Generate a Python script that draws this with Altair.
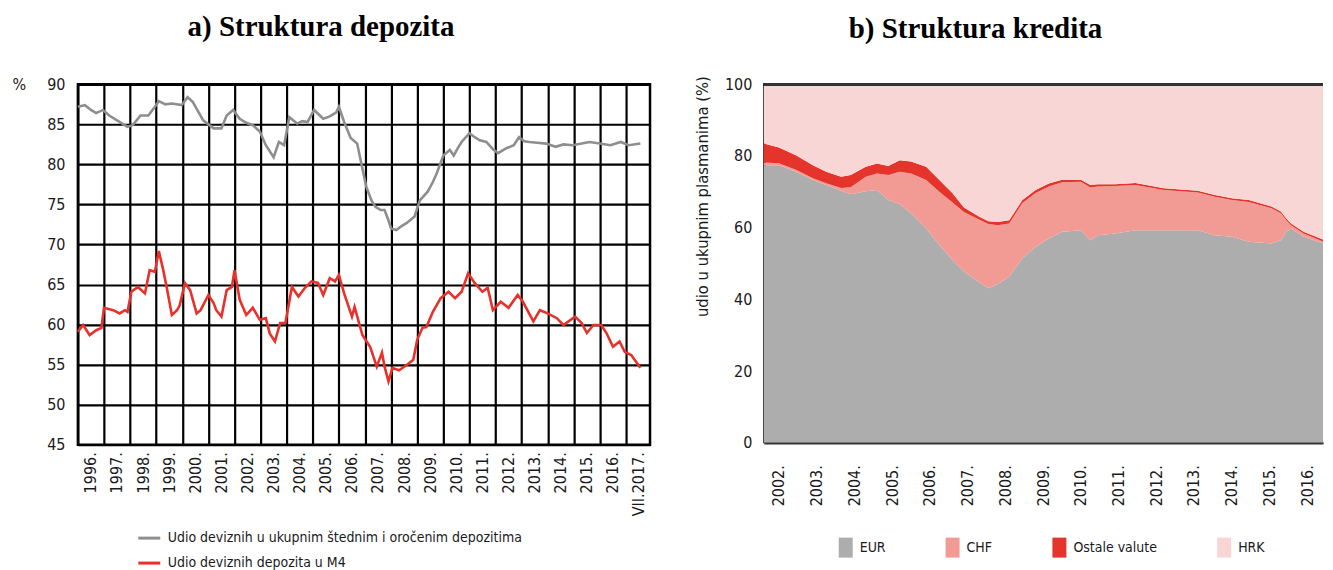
import altair as alt
import pandas as pd

FONT_N = "Liberation Sans Narrow, Arial Narrow, DejaVu Sans Condensed, Liberation Sans, sans-serif"
FONT_T = "Liberation Serif, Times New Roman, serif"
TXT = "#1a1a1a"

# ---------------- a) Struktura depozita ----------------
SER_A = ["Udio deviznih u ukupnim štednim i oročenim depozitima", "Udio deviznih depozita u M4"]
GRAY_T = [1996.0, 1996.27, 1996.5, 1996.7, 1996.96, 1997.2, 1997.5, 1997.9, 1998.1, 1998.4,
          1998.7, 1998.95, 1999.1, 1999.35, 1999.6, 1999.98, 2000.2, 2000.4, 2000.8, 2001.2,
          2001.5, 2001.7, 2001.95, 2002.2, 2002.45, 2002.7, 2002.97, 2003.2, 2003.5, 2003.7,
          2003.9, 2004.1, 2004.4, 2004.6, 2004.8, 2005.05, 2005.4, 2005.65, 2005.9, 2006.0,
          2006.2, 2006.45, 2006.7, 2006.9, 2007.05, 2007.25, 2007.4, 2007.6, 2007.75, 2007.9,
          2008.0, 2008.2, 2008.4, 2008.6, 2008.9, 2009.1, 2009.4, 2009.6, 2009.75, 2010.0,
          2010.25, 2010.4, 2010.55, 2010.7, 2011.0, 2011.2, 2011.4, 2011.65, 2011.9, 2012.1,
          2012.4, 2012.7, 2012.9, 2013.1, 2013.3, 2013.6, 2013.95, 2014.3, 2014.6, 2014.95,
          2015.3, 2015.6, 2016.0, 2016.4, 2016.8, 2017.1, 2017.55]
GRAY_V = [87.2, 87.4, 86.8, 86.4, 86.8, 86.1, 85.5, 84.7, 84.9, 86.1,
          86.1, 87.2, 87.9, 87.5, 87.6, 87.4, 88.4, 87.8, 85.5, 84.5,
          84.5, 86.1, 86.8, 85.7, 85.2, 84.9, 84.1, 82.4, 80.9, 82.8,
          82.4, 85.9, 85.1, 85.4, 85.3, 86.8, 85.7, 86.0, 86.5, 87.2,
          85.3, 83.3, 82.6, 79.5, 77.2, 75.5, 74.7, 74.3, 74.3, 73.0,
          72.0, 71.8, 72.3, 72.7, 73.5, 75.5, 76.6, 77.8, 78.9, 81.1,
          81.8, 81.1, 82.0, 82.8, 83.9, 83.4, 83.0, 82.8, 81.9, 81.4,
          82.0, 82.4, 83.4, 82.9, 82.8, 82.7, 82.6, 82.2, 82.5, 82.4,
          82.6, 82.8, 82.6, 82.4, 82.8, 82.4, 82.6]
RED_T = [1996.0, 1996.2, 1996.45, 1996.7, 1996.9, 1997.0, 1997.35, 1997.6, 1997.8, 1997.9,
         1998.05, 1998.3, 1998.57, 1998.75, 1998.95, 1999.1, 1999.27, 1999.4, 1999.6, 1999.8,
         1999.9, 2000.1, 2000.3, 2000.55, 2000.7, 2001.0, 2001.2, 2001.3, 2001.5, 2001.7,
         2001.9, 2002.0, 2002.2, 2002.45, 2002.7, 2002.97, 2003.2, 2003.35, 2003.55, 2003.75,
         2003.95, 2004.2, 2004.45, 2004.7, 2004.95, 2005.2, 2005.4, 2005.65, 2005.85, 2006.0,
         2006.2, 2006.5, 2006.6, 2006.9, 2007.2, 2007.45, 2007.65, 2007.75, 2007.9, 2008.05,
         2008.3, 2008.6, 2008.85, 2009.0, 2009.2, 2009.35, 2009.6, 2009.9, 2010.2, 2010.45,
         2010.7, 2010.95, 2011.2, 2011.5, 2011.7, 2011.9, 2012.2, 2012.5, 2012.85, 2013.05,
         2013.45, 2013.7, 2014.0, 2014.35, 2014.6, 2015.05, 2015.3, 2015.5, 2015.75, 2016.05,
         2016.25, 2016.5, 2016.75, 2016.95, 2017.2, 2017.55]
RED_V = [59.1, 59.95, 58.7, 59.3, 59.6, 62.1, 61.8, 61.4, 61.8, 61.6,
         64.1, 64.7, 63.9, 66.8, 66.6, 69.2, 66.8, 64.7, 61.2, 61.8,
         62.4, 65.2, 64.3, 61.4, 61.8, 63.7, 62.7, 61.8, 61.0, 64.3,
         64.7, 66.8, 63.1, 61.2, 62.1, 60.6, 60.8, 58.9, 57.9, 60.2,
         60.2, 64.7, 63.5, 64.6, 65.4, 65.2, 63.7, 65.8, 65.4, 66.2,
         63.9, 61.0, 62.2, 58.7, 57.2, 54.75, 56.5, 54.75, 52.9, 54.6,
         54.3, 54.95, 55.6, 58.1, 59.6, 59.7, 61.6, 63.3, 64.1, 63.3,
         64.1, 66.4, 65.2, 64.1, 64.6, 61.8, 62.85, 62.1, 63.7, 62.85,
         60.4, 61.8, 61.4, 60.8, 59.95, 61.0, 60.2, 58.95, 59.95, 59.95,
         58.95, 57.25, 57.9, 56.6, 56.2, 54.6]
A_YEARS = list(range(1996, 2018))
A_XLABELS = [f"{y}." for y in range(1996, 2017)] + ["VII.2017."]
A_YTICKS = list(range(45, 91, 5))

# ---------------- b) Struktura kredita ----------------
SER_B = ["EUR", "CHF", "Ostale valute", "HRK"]
COL_B = ["#adadad", "#f29b95", "#e4342b", "#f9d6d6"]
B_T = [2002.0, 2002.4, 2002.85, 2003.3, 2003.65, 2004.05, 2004.3, 2004.7, 2005.0, 2005.3,
       2005.6, 2005.9, 2006.3, 2006.65, 2007.0, 2007.3, 2007.7, 2007.95, 2008.2, 2008.5,
       2008.85, 2009.2, 2009.55, 2009.9, 2010.4, 2010.65, 2010.85, 2011.3, 2011.85, 2012.6,
       2013.5, 2013.95, 2014.4, 2014.85, 2015.45, 2015.7, 2015.85, 2015.97, 2016.3, 2016.95,
       2017.1]
EUR = [77.4, 77.4, 75.6, 73.3, 71.9, 70.3, 69.3, 70.2, 70.5, 67.7,
       66.6, 64.0, 59.8, 55.2, 51.0, 47.8, 44.8, 43.1, 44.3, 46.3,
       51.5, 54.7, 57.0, 58.9, 59.3, 56.5, 57.9, 58.4, 59.3, 59.3,
       59.3, 57.9, 57.5, 56.1, 55.6, 56.5, 59.0, 59.8, 57.5, 55.2,
       54.8]
CHF = [0.8, 0.6, 0.6, 0.5, 0.5, 0.8, 2.0, 4.0, 4.6, 7.0,
       9.0, 11.1, 13.5, 14.8, 16.0, 16.6, 17.5, 17.9, 16.4, 14.9,
       15.4, 15.0, 14.5, 13.8, 13.5, 14.7, 13.6, 13.2, 12.6, 11.2,
       10.5, 10.7, 10.2, 11.1, 9.8, 7.5, 3.0, 0.9, 0.9, 0.4,
       0.4]
OSTALE = [5.3, 4.4, 4.0, 3.6, 3.2, 3.1, 3.4, 2.8, 2.8, 2.5,
          3.2, 3.4, 3.7, 3.3, 2.6, 1.2, 0.8, 0.8, 0.9, 0.9,
          0.8, 0.8, 0.8, 0.7, 0.6, 0.7, 0.6, 0.5, 0.6, 0.5,
          0.5, 0.5, 0.5, 0.5, 0.5, 0.5, 0.5, 0.5, 0.5, 0.5,
          0.5]
B_YEARS = list(range(2002, 2017))
B_XLABELS = [f"{y}." for y in B_YEARS]
B_YTICKS = list(range(0, 101, 10))

# ---------------- tables ----------------
rows_a = [{"t": t, "v": v, "s": SER_A[0]} for t, v in zip(GRAY_T, GRAY_V)]
rows_a += [{"t": t, "v": v, "s": SER_A[1]} for t, v in zip(RED_T, RED_V)]
df_a = pd.DataFrame(rows_a)

rows_b = []
for i, t in enumerate(B_T):
    hrk = 100 - EUR[i] - CHF[i] - OSTALE[i]
    for k, val in enumerate([EUR[i], CHF[i], OSTALE[i], hrk]):
        rows_b.append({"t": t, "v": val, "s": SER_B[k], "ord": k})
df_b = pd.DataFrame(rows_b)


def label_expr(first, labels):
    arr = "[" + ",".join("'" + l + "'" for l in labels) + "]"
    return f"{arr}[datum.value - {first}]"


# ---------------- panel a ----------------
xa = alt.X("t:Q", scale=alt.Scale(domain=[1996, 2017.92], nice=False, zero=False),
           axis=alt.Axis(values=A_YEARS, grid=True, gridColor="black", gridWidth=2.2, gridOpacity=1,
                         ticks=False, domain=False, labelAngle=270, labelOffset=13, labelPadding=7,
                         labelExpr=label_expr(1996, A_XLABELS), labelFont=FONT_N, labelFontSize=16,
                         labelColor=TXT, labelOverlap=False, labelBound=False, labelFlush=False,
                         title=None))
ya = alt.Y("v:Q", scale=alt.Scale(domain=[45, 90], nice=False, zero=False),
           axis=alt.Axis(values=A_YTICKS, grid=True, gridColor="black", gridWidth=2.2, gridOpacity=1,
                         ticks=False, domain=False, labelPadding=13, labelFont=FONT_N, labelFontSize=16,
                         labelColor=TXT, title="%", titleAngle=0, titleX=-66, titleY=0,
                         titleAlign="left", titleBaseline="middle", titleFont=FONT_N,
                         titleFontSize=16, titleFontWeight="normal", titleColor=TXT))
ca = alt.Color("s:N", scale=alt.Scale(domain=SER_A, range=["#8e8e8e", "#e8312a"]),
               legend=alt.Legend(orient="none", legendX=59, legendY=442, title=None,
                                 symbolType="stroke", symbolSize=484, symbolStrokeWidth=3,
                                 labelFont=FONT_N, labelFontSize=14, labelColor=TXT,
                                 labelLimit=600, rowPadding=5, padding=0, labelOffset=6,
                                 direction="vertical"))

panel_a = alt.Chart(df_a).mark_line(strokeWidth=2.6).encode(
    x=xa, y=ya, color=ca, detail="s:N"
).properties(
    width=573, height=361,
    view=alt.ViewBackground(stroke="black", strokeWidth=2.5),
    title=alt.TitleParams("a) Struktura depozita", font=FONT_T, fontSize=29, fontWeight="bold",
                          color="black", anchor="middle", frame="group", dx=-43, offset=34)
)

# ---------------- panel b ----------------
xb = alt.X("t:Q", scale=alt.Scale(domain=[2002, 2016.815], nice=False, zero=False),
           axis=alt.Axis(values=B_YEARS, grid=False, ticks=False, domain=True, domainColor="#333333",
                         domainWidth=2.5, labelAngle=270, labelOffset=15, labelPadding=22,
                         labelExpr=label_expr(2002, B_XLABELS), labelFont=FONT_N, labelFontSize=16,
                         labelColor=TXT, labelOverlap=False, labelBound=False, labelFlush=False,
                         title=None))
yb = alt.Y("v:Q", stack="zero", scale=alt.Scale(domain=[0, 100], nice=False, zero=True),
           axis=alt.Axis(values=B_YTICKS, grid=False, ticks=False, domain=True, domainColor="#333333",
                         domainWidth=2.5, labelPadding=12, labelFont=FONT_N, labelFontSize=16,
                         labelColor=TXT, title="udio u ukupnim plasmanima (%)", titleAngle=270,
                         titleX=-61, titleY=112, titleAlign="center", titleBaseline="middle",
                         titleFont=FONT_N, titleFontSize=16.5, titleFontWeight="normal",
                         titleColor=TXT))
cb = alt.Color("s:N", scale=alt.Scale(domain=SER_B, range=COL_B),
               legend=alt.Legend(orient="none", legendX=72, legendY=454, title=None,
                                 direction="horizontal", symbolType="M-0.7,-1H0.7V1H-0.7Z",
                                 symbolSize=400, symbolStrokeWidth=0, labelFont=FONT_N,
                                 labelFontSize=14, labelColor=TXT, labelOffset=4,
                                 columnPadding=57, padding=0))

area_b = alt.Chart(df_b).mark_area(clip=True, interpolate="linear").encode(
    x=xb, y=yb, color=cb, order=alt.Order("ord:Q", sort="ascending")
)
top_b = alt.Chart(df_b).mark_rule(color="#333333", strokeWidth=2.5).encode(y=alt.datum(100))

panel_b = alt.layer(area_b, top_b).properties(
    width=560, height=359,
    view=alt.ViewBackground(stroke="transparent"),
    title=alt.TitleParams("b) Struktura kredita", font=FONT_T, fontSize=29, fontWeight="bold",
                          color="black", anchor="middle", frame="group", dx=-68, offset=32)
)

chart = alt.hconcat(panel_a, panel_b, spacing=114).resolve_scale(
    color="independent", x="independent", y="independent"
).properties(
    bounds="flush",
    padding={"left": 2, "top": 3, "right": 0, "bottom": 0}
).configure(background="white")

chart.save("out.html", embed_options={"renderer": "svg", "actions": False})
